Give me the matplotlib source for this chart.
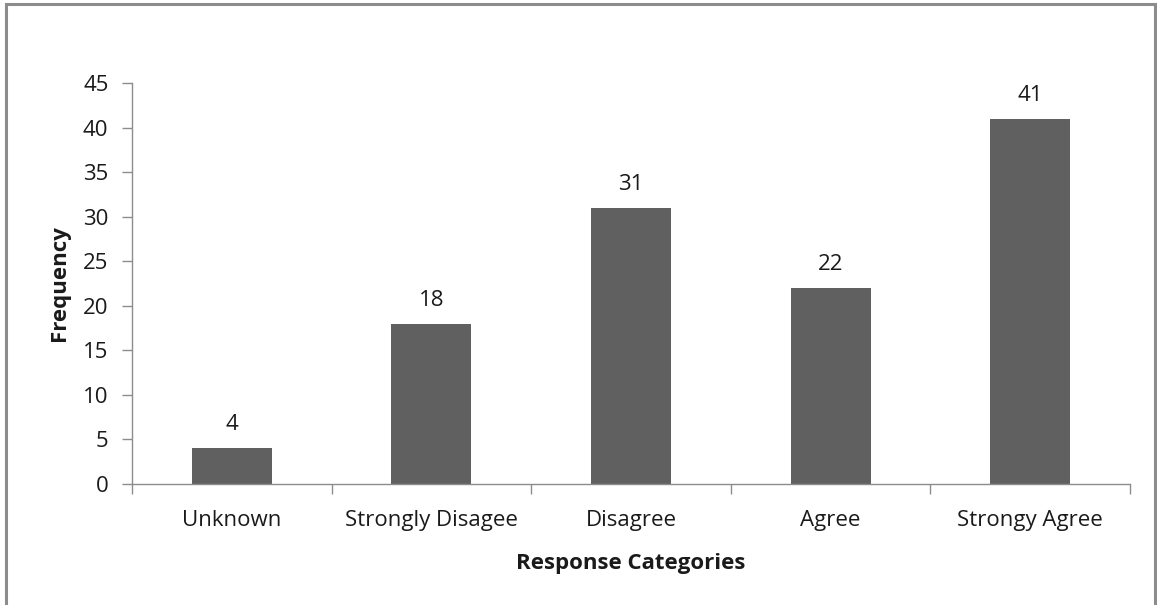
import matplotlib
matplotlib.use("Agg")
import matplotlib.pyplot as plt
from matplotlib.patches import Rectangle

categories = ["Unknown", "Strongly Disagee", "Disagree", "Agree", "Strongy Agree"]
frequency = [4, 18, 31, 22, 41]
y_ticks = [0, 5, 10, 15, 20, 25, 30, 35, 40, 45]

plt.rcParams["font.family"] = ["Open Sans", "DejaVu Sans"]

W, H = 1157, 605
FS = 16
TXT = "#1a1a1a"
fig = plt.figure(figsize=(W / 100, H / 100), dpi=100)

# outer chart border
fig.patches.append(Rectangle((6 / W, -0.05), (1155 - 6) / W, (H - 4) / H + 0.05,
                             transform=fig.transFigure, fill=False,
                             edgecolor="#8c8c8c", linewidth=2.2))

ax_left, ax_right, ax_top, ax_bottom = 132, 1130, 83, 484
ax = fig.add_axes([ax_left / W, (H - ax_bottom) / H,
                   (ax_right - ax_left) / W, (ax_bottom - ax_top) / H])
ax_w = ax_right - ax_left
ax_h = ax_bottom - ax_top

x = range(len(categories))
ax.bar(x, frequency, width=0.4, color="#606060", zorder=2)
for xi, v in zip(x, frequency):
    ax.annotate(str(v), (xi, v), xytext=(0, 13), textcoords="offset points",
                ha="center", va="baseline", fontsize=FS, color=TXT)

ax.set_xlim(-0.5, len(categories) - 0.5)
ax.set_ylim(0, 45)
ax.set_yticks(y_ticks)
ax.set_yticklabels([str(t) for t in y_ticks], fontsize=FS, color=TXT)
ax.set_xticks(list(x))
ax.set_xticklabels(categories, fontsize=FS, color=TXT)
ax.tick_params(axis="x", length=0, pad=19)
ax.set_xticks([i - 0.5 for i in range(len(categories) + 1)], minor=True)
ax.tick_params(axis="x", which="minor", length=7, width=1, color="#8c8c8c")
ax.tick_params(axis="y", length=7, width=1, color="#8c8c8c", pad=10)

for side in ("top", "right"):
    ax.spines[side].set_visible(False)
for side in ("left", "bottom"):
    ax.spines[side].set_color("#8c8c8c")
    ax.spines[side].set_linewidth(1)

ax.set_ylabel("Frequency", fontsize=FS, fontweight="bold", color=TXT, va="center")
ax.yaxis.set_label_coords(-(ax_left - 60) / ax_w, 0.5)
ax.set_xlabel("Response Categories", fontsize=FS, fontweight="bold", color=TXT, va="center")
ax.xaxis.set_label_coords(0.5, -(563 - ax_bottom) / ax_h)

fig.savefig("out.png", dpi=100)
